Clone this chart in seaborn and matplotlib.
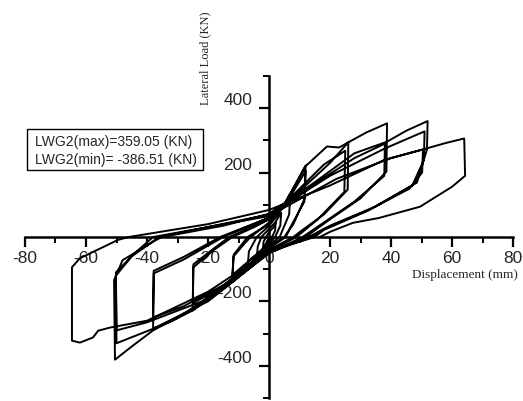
import numpy as np
import pandas as pd
import matplotlib
matplotlib.use("Agg")
import matplotlib.pyplot as plt
import matplotlib.transforms as mtransforms
import seaborn as sns

# Hysteresis loops, in testing order (push to - first, then +)
small_disp = [0, -1, -2, -1.8, -1, 0, 1.5, 2.2, 2, 1,
              0, -2, -4, -3.7, -2.5, 0, 2, 4, 3.7, 2,
              0, -3, -7, -6.6, -4, 0, 3, 7, 6.6, 3.5]
small_load = [0, -20, -40, -15, 0, 15, 30, 45, 20, 0,
              -15, -35, -65, -30, 0, 25, 45, 75, 35, 0,
              -20, -45, -95, -45, 0, 35, 70, 135, 70, 0]

amp12_disp = [0, -5, -12, -11.6, -8, -6, 0, 5, 9, 12, 11.7, 8, 5,
              0, -6, -12, -11.6, -7, 0, 6, 12, 11.6, 7, 5.5]
amp12_load = [-25, -60, -125, -60, -20, 0, 45, 100, 170, 222, 120, 40, 0,
              -30, -70, -118, -55, 0, 40, 110, 205, 110, 30, 0]

amp25_disp = [0, -8, -12.8, -20, -25, -24.8, -18, -12, -5, 0, 5, 12, 19, 23, 26,
              25.8, 18, 10, 8,
              0, -10, -18, -25, -24.8, -18, -13, 0, 10, 18, 25, 24.7, 16, 9]
amp25_load = [-35, -95, -135, -190, -228, -94, -40, 0, 30, 55, 100, 220, 281, 278, 294,
              147, 70, 15, 0,
              -40, -120, -170, -205, -85, -35, 0, 55, 150, 225, 268, 140, 55, 0]

amp38_disp = [0, -12, -25, -32, -38, -37.8, -28, -15, 0, 12, 20, 26, 32, 38.7,
              38.5, 30, 20, 12,
              0, -15, -28, -38, -37.8, -28, -16, 0, 15, 28, 38, 37.8, 28, 18, 11]
amp38_load = [-45, -140, -228, -262, -284, -113, -70, 0, 60, 160, 230, 294, 325, 353,
              203, 120, 55, 0,
              -50, -150, -215, -250, -105, -62, 0, 60, 165, 245, 290, 190, 110, 45, 0]

amp50_disp = [0, -15, -30, -38, -45, -50.5, -50.8, -48, -37, -35,
              -15, 0, 15, 28, 38.7, 45, 52, 51.8, 48.5, 35, 20, 13,
              0, -20, -38, -50, -50.2, -45, -36, 0, 20, 38, 51, 50.8, 47, 33, 18, 14,
              0, -22, -40, -50, -50.2, -44, -38, 0, 22, 40, 50.5, 50.2, 46, 32, 18, 15]
amp50_load = [-50, -160, -250, -290, -340, -381, -134, -72, -9, 0,
              35, 72, 170, 260, 296, 330, 360, 272, 169, 95, 35, 0,
              -50, -200, -285, -330, -120, -60, 0, 70, 190, 275, 328, 240, 160, 85, 25, 0,
              -45, -200, -265, -290, -110, -50, 0, 65, 180, 245, 272, 200, 150, 80, 22, 0]

amp64_disp = [0, -20, -40, -52, -56, -57.7, -62, -64.6, -64.6, -62, -49.5, -46,
              -20, 0, 20, 38, 50.5, 58, 64, 64.3, 60, 49.5, 36, 27.5, 20, 16.7]
amp64_load = [-45, -170, -260, -281, -291, -312, -328, -322, -94, -66, -9, 0,
              40, 84, 160, 240, 272, 292, 306, 190, 156, 94, 59, 44, 16, 0]

x_ticks = [-80, -60, -40, -20, 0, 20, 40, 60, 80]
y_ticks = [-400, -200, 200, 400]
note_lines = ["LWG2(max)=359.05 (KN)", "LWG2(min)= -386.51 (KN)"]

disp = small_disp + amp12_disp + amp25_disp + amp38_disp + amp50_disp + amp64_disp
load = small_load + amp12_load + amp25_load + amp38_load + amp50_load + amp64_load
df = pd.DataFrame({"disp": disp, "load": load})

sns.set_style("white")
plt.rcParams["font.family"] = ["Liberation Sans", "DejaVu Sans"]
plt.rcParams["axes.unicode_minus"] = False

fig = plt.figure(figsize=(5.23, 4.01), dpi=100)
ax = fig.add_axes([25 / 523, 3 / 401, 488 / 523, 322 / 401])

sns.lineplot(data=df, x="disp", y="load", sort=False, estimator=None,
             color="black", lw=1.4, ax=ax)

ax.set_xlim(-80, 80)
ax.set_ylim(-500, 500)
ax.set_xlabel("")
ax.set_ylabel("")

# axes crossing at the origin
ax.spines["left"].set_position(("data", 0))
ax.spines["bottom"].set_position(("data", 0))
ax.spines["top"].set_visible(False)
ax.spines["right"].set_visible(False)
for s in ["left", "bottom"]:
    ax.spines[s].set_linewidth(1.8)
    ax.spines[s].set_color("black")

ax.set_xticks(x_ticks)
ax.set_xticks(np.arange(-70, 80, 20), minor=True)
ax.set_yticks(y_ticks)
ax.set_yticks([-500, -300, -100, 100, 300, 500], minor=True)
ax.tick_params(which="major", direction="out", length=7, width=1.6,
               labelsize=12.5, color="black", bottom=True, left=True)
ax.tick_params(which="minor", direction="out", length=4, width=1.4,
               color="black", bottom=True, left=True)
ax.tick_params(axis="x", pad=3)
ax.tick_params(axis="y", pad=5)

# y labels sit a little above their ticks
offset = mtransforms.ScaledTranslation(0, 9 / 100, fig.dpi_scale_trans)
for lab in ax.get_yticklabels():
    lab.set_transform(lab.get_transform() + offset)

fig.text(205 / 523, 1 - 58 / 401, "Lateral Load (KN)", rotation=90,
         ha="center", va="center", fontsize=9, family="Liberation Serif")
fig.text(465 / 523, 1 - 275 / 401, "Displacement (mm)",
         ha="center", va="center", fontsize=9.5, family="Liberation Serif")

# note box
box = plt.Rectangle((27 / 523, 1 - 170 / 401), 176 / 523, 41 / 401,
                    transform=fig.transFigure, fill=False, lw=1.0, ec="black")
fig.patches.append(box)
fig.text(35 / 523, 1 - 142 / 401, note_lines[0], ha="left", va="center", fontsize=10)
fig.text(35 / 523, 1 - 160 / 401, note_lines[1], ha="left", va="center", fontsize=10)

fig.savefig("out.png", dpi=100)
